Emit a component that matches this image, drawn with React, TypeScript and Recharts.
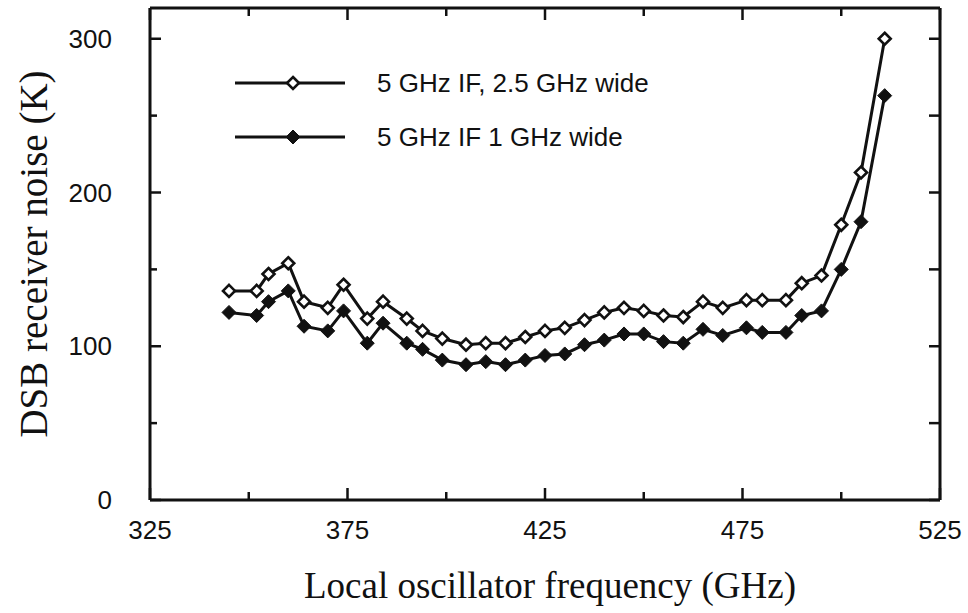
import React from "react";
import { Line, LineChart, XAxis, YAxis, Legend } from "recharts";

// LO frequency (GHz) and DSB receiver noise (K)
const freq = [345, 352, 355, 360, 364, 370, 374, 380, 384, 390, 394, 399, 405, 410, 415, 420, 425, 430, 435, 440, 445, 450, 455, 460, 465, 470, 476, 480, 486, 490, 495, 500, 505, 511];
const wide = [136, 136, 147, 154, 129, 125, 140, 118, 129, 118, 110, 105, 101, 102, 102, 106, 110, 112, 117, 122, 125, 123, 120, 119, 129, 125, 130, 130, 130, 141, 146, 179, 213, 300];
const narrow = [122, 120, 129, 136, 113, 110, 123, 102, 115, 102, 98, 91, 88, 90, 88, 91, 94, 95, 101, 104, 108, 108, 103, 102, 111, 107, 112, 109, 109, 120, 123, 150, 181, 263];

const xTicks = [325, 350, 375, 400, 425, 450, 475, 500, 525];
const xLabels = [325, 375, 425, 475, 525];
const yTicks = [0, 50, 100, 150, 200, 250, 300];
const yLabels = [0, 100, 200, 300];

const series = [
  { key: "wide", name: "5 GHz IF, 2.5 GHz wide", filled: false },
  { key: "narrow", name: "5 GHz IF 1 GHz wide", filled: true },
];

const data = freq.map((f, i) => ({ f, wide: wide[i], narrow: narrow[i] }));

const INK = "#111";
const TICK_FONT = "'Liberation Sans Narrow', 'Liberation Sans', Arial, sans-serif";
const SERIF = "'Liberation Serif', 'Times New Roman', serif";

function Diamond({ cx, cy, filled }: { cx: number; cy: number; filled: boolean }) {
  const r = filled ? 7 : 6;
  return (
    <polygon
      points={`${cx},${cy - r} ${cx + r},${cy} ${cx},${cy + r} ${cx - r},${cy}`}
      fill={filled ? INK : "#fff"}
      stroke={INK}
      strokeWidth={filled ? 1 : 2.6}
    />
  );
}

const dotFor = (filled: boolean) => (p: any) =>
  p.cx == null ? <g key={p.index} /> : <Diamond key={p.index} cx={p.cx} cy={p.cy} filled={filled} />;

// ticks point inward, like the original plot frame
function BottomTick({ x, y, payload }: any) {
  const major = xLabels.includes(payload.value);
  return (
    <g>
      <line x1={x} x2={x} y1={y} y2={y - (major ? 12 : 8)} stroke={INK} strokeWidth={2.5} />
      {major && (
        <text x={x} y={y + 39} textAnchor="middle" fontFamily={TICK_FONT} fontSize={26} fill={INK}>
          {payload.value}
        </text>
      )}
    </g>
  );
}

function TopTick({ x, y, payload }: any) {
  const major = xLabels.includes(payload.value);
  return <line x1={x} x2={x} y1={y} y2={y + (major ? 12 : 8)} stroke={INK} strokeWidth={2.5} />;
}

function LeftTick({ x, y, payload }: any) {
  const major = yLabels.includes(payload.value);
  return (
    <g>
      <line x1={x} x2={x + (major ? 11 : 7)} y1={y} y2={y} stroke={INK} strokeWidth={2.5} />
      {major && (
        <text x={x - 38} y={y + 9} textAnchor="end" fontFamily={TICK_FONT} fontSize={26} fill={INK}>
          {payload.value}
        </text>
      )}
    </g>
  );
}

function RightTick({ x, y }: any) {
  return <line x1={x} x2={x - 11} y1={y} y2={y} stroke={INK} strokeWidth={2.5} />;
}

function renderLegend() {
  return (
    <svg width={460} height={90}>
      {series.map((s, i) => {
        const cy = 17 + i * 54;
        return (
          <g key={s.key}>
            <line x1={5} x2={115} y1={cy} y2={cy} stroke={INK} strokeWidth={3} />
            <Diamond cx={63} cy={cy} filled={s.filled} />
            <text x={147} y={cy + 9} fontFamily="'Liberation Sans', Arial, sans-serif" fontSize={26} fill={INK}>
              {s.name}
            </text>
          </g>
        );
      })}
    </svg>
  );
}

export default function App() {
  return (
    <div style={{ position: "absolute", left: 0, top: 0, width: 968, height: 613, background: "#fff" }}>
      <LineChart width={968} height={613} data={data} margin={{ top: 7, right: 27, bottom: 0, left: 0 }}>
        <XAxis
          dataKey="f"
          type="number"
          domain={[325, 525]}
          ticks={xTicks}
          interval={0}
          height={113}
          tickSize={0}
          tickMargin={0}
          tickLine={false}
          axisLine={{ stroke: INK, strokeWidth: 3 }}
          tick={<BottomTick />}
          label={{
            content: (p: any) => (
              <text
                x={p.viewBox.x + p.viewBox.width / 2 + 5}
                y={p.viewBox.y + 98}
                textAnchor="middle"
                fontFamily={SERIF}
                fontSize={37}
                fill={INK}
              >
                Local oscillator frequency (GHz)
              </text>
            ),
          }}
        />
        <XAxis
          xAxisId="top"
          orientation="top"
          dataKey="f"
          type="number"
          domain={[325, 525]}
          ticks={xTicks}
          interval={0}
          height={1}
          tickSize={0}
          tickMargin={0}
          tickLine={false}
          axisLine={{ stroke: INK, strokeWidth: 3 }}
          tick={<TopTick />}
        />
        <YAxis
          type="number"
          domain={[0, 320]}
          ticks={yTicks}
          interval={0}
          width={150}
          tickSize={0}
          tickMargin={0}
          tickLine={false}
          axisLine={{ stroke: INK, strokeWidth: 3 }}
          tick={<LeftTick />}
          label={{
            content: (p: any) => {
              const cx = 33;
              const cy = p.viewBox.y + p.viewBox.height / 2;
              return (
                <text
                  x={cx}
                  y={cy}
                  transform={`rotate(-90 ${cx} ${cy})`}
                  textAnchor="middle"
                  dominantBaseline="central"
                  fontFamily={SERIF}
                  fontSize={39}
                  fill={INK}
                >
                  DSB receiver noise (K)
                </text>
              );
            },
          }}
        />
        <YAxis
          yAxisId="right"
          orientation="right"
          type="number"
          domain={[0, 320]}
          ticks={yTicks}
          interval={0}
          width={1}
          tickSize={0}
          tickMargin={0}
          tickLine={false}
          axisLine={{ stroke: INK, strokeWidth: 3 }}
          tick={<RightTick />}
        />
        <Legend
          layout="vertical"
          verticalAlign="middle"
          align="center"
          wrapperStyle={{ left: 230, top: 66, width: 460 }}
          content={renderLegend}
        />
        {/* invisible copy so the top/right frame axes get a domain */}
        <Line
          xAxisId="top"
          yAxisId="right"
          dataKey="wide"
          stroke="none"
          dot={false}
          activeDot={false}
          legendType="none"
          isAnimationActive={false}
        />
        {series.map((s) => (
          <Line
            key={s.key}
            type="linear"
            dataKey={s.key}
            name={s.name}
            stroke={INK}
            strokeWidth={3}
            dot={dotFor(s.filled)}
            activeDot={false}
            isAnimationActive={false}
          />
        ))}
      </LineChart>
    </div>
  );
}
